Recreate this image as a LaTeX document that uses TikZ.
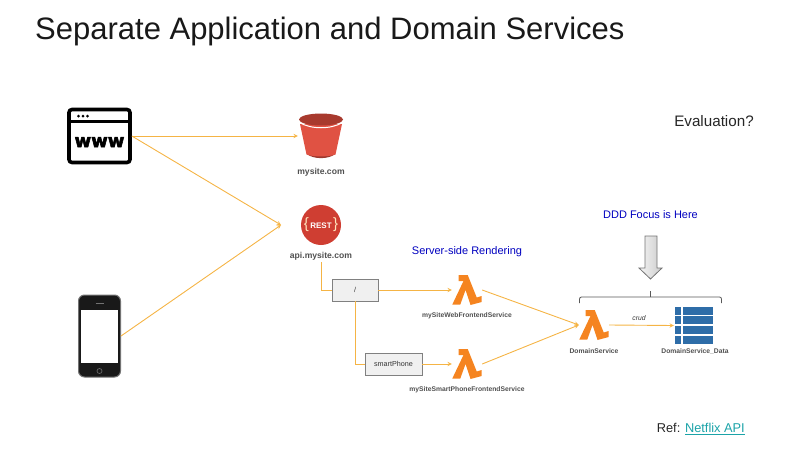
\documentclass[tikz,border=0pt]{standalone}
\usepackage{fontspec}
\setmainfont{Liberation Sans}
\newfontfamily\wwwfont[FakeBold=3]{DejaVu Sans Bold}
\usetikzlibrary{arrows,%
                shapes,%
                positioning}
\definecolor{linkorange}{HTML}{F5B445}
\definecolor{lambdaorange}{HTML}{F58420}
\definecolor{bucketred}{HTML}{E05243}
\definecolor{bucketdark}{HTML}{A83A2E}
\definecolor{restred}{HTML}{CF3E32}
\definecolor{tableblue}{HTML}{2E6DA8}
\definecolor{labelgray}{HTML}{505050}
\definecolor{netflixteal}{HTML}{1BA3A8}
\definecolor{restcream}{HTML}{FFE3BC}
\begin{document}
\begin{tikzpicture}[x=1pt, y=-1pt, >=stealth,
title/.style={font=\fontsize{31}{36}\selectfont, text=black!90, inner sep=0pt},
%
note/.style={font=\fontsize{15.2}{17}\selectfont, text=black!85, inner sep=0pt},
%
bluenote/.style={font=\fontsize{11}{14}\selectfont, text=blue!75!black, inner sep=0pt},
%
caption/.style={font=\bfseries\fontsize{8.6}{10}\selectfont, text=labelgray, inner sep=2pt},
%
smallcaption/.style={font=\bfseries\fontsize{6.75}{9}\selectfont, text=labelgray, inner sep=0pt},
%
routebox/.style={rectangle, draw=black!50, line width=.8pt, fill=black!6, minimum height=22pt,
font=\fontsize{7.2}{9}\selectfont, text=black!80, inner sep=0pt},
%
link/.style={->, draw=linkorange, line width=.9pt},
%
window/.style={rectangle, draw=black, line width=3.6pt, rounded corners=3pt, fill=white,
minimum width=61pt, minimum height=53pt, inner sep=0pt, text=black,
font=\wwwfont\fontsize{18}{20}\selectfont},
%
bucket/.style={minimum width=46pt, minimum height=46pt, inner sep=0pt,
path picture={
  \begin{scope}[shift={(path picture bounding box.center)}]
    \fill[bucketred!70!black] (-14,18) .. controls (-8,23.5) and (8,23.5) .. (14,18) -- cycle;
    \fill[bucketred] (-21,-12) -- (-14.5,18.5) .. controls (-8,21) and (8,21) .. (14.5,18.5) -- (21,-12) -- cycle;
    \draw[white, line width=1pt] (-21.5,-13.5) .. controls (-10,-6.5) and (10,-6.5) .. (21.5,-13.5);
    \fill[bucketdark] (0,-16.5) ellipse (22 and 6);
  \end{scope}}},
%
rest/.style={circle, fill=restred, minimum size=40pt, inner sep=0pt, text=white,
font=\bfseries\fontsize{8}{10}\selectfont},
%
phone/.style={rectangle, draw=black!55, line width=1pt, rounded corners=6pt, fill=black!90,
minimum width=42pt, minimum height=82pt, inner sep=0pt,
path picture={
  \begin{scope}[shift={(path picture bounding box.center)}, sharp corners]
    \fill[white] (-18.5,-26) rectangle (18.5,27);
    \draw[black!55, line width=.7pt] (-4,-33) -- (4,-33);
    \draw[black!60, line width=.7pt] (0,35) circle (2.5);
  \end{scope}}},
%
lambdaicon/.style={minimum width=30pt, minimum height=30pt, inner sep=0pt,
path picture={
  \begin{scope}[shift={(path picture bounding box.center)}]
    \fill[lambdaorange] (-8.3,-15) -- (0.7,-15) -- (9.7,7.5) -- (14.7,6) -- (14.7,12) -- (3.5,15)
      -- (-1.5,0) -- (-6.7,14.5) -- (-14.7,14.5) -- (-3.5,-9) -- (-8.3,-9) -- cycle;
  \end{scope}}},
%
datatable/.style={minimum width=40pt, minimum height=38pt, inner sep=0pt,
path picture={
  \begin{scope}[shift={(path picture bounding box.center)}]
    \foreach \dy in {-19,-9.2,0.6,10.4} {
      \fill[tableblue] (-19.5,\dy) rectangle +(6,8);
      \fill[tableblue] (-11.5,\dy) rectangle +(30,8);
    }
  \end{scope}}}]

\useasboundingbox (0,0) rectangle (800,450);

\node[title, anchor=west] (heading) at (35,31) {Separate Application and Domain Services};
\node[note] (evaluation) at (714,121) {Evaluation?};
\node[bluenote] (focus) at (650.5,215) {DDD Focus is Here};
\node[bluenote] (rendering) at (467,251.5) {Server-side Rendering};
\node[note, font=\fontsize{12.8}{15}\selectfont, anchor=east] (ref) at (745,429)
  {Ref: \textcolor{netflixteal}{\underline{Netflix API}}};

\node[window] (browser) at (99.5,136) {\raisebox{-11pt}[3pt][3pt]{www}};
\begin{scope}[shift={(browser.center)}]
  \draw[black, line width=2.6pt] (-29,-14.5) -- (29,-14.5);
  \foreach \dx in {-21,-16.5,-12}
    \fill[black] (\dx,-20) circle (1.5);
\end{scope}
\node[phone] (mobile) at (99.5,336) {};

\node[bucket] (site) at (321,136) {};
\node[caption] (sitelabel) at (321,172) {mysite.com};

\node[rest] (api) at (321,225) {\textcolor{restcream}{\fontsize{15}{15}\mdseries\selectfont\{}\,REST\,\textcolor{restcream}{\fontsize{15}{15}\mdseries\selectfont\}}};
\node[caption] (apilabel) at (321,256) {api.mysite.com};

\node[routebox, minimum width=46pt] (root) at (355,290) {/};
\node[routebox, minimum width=57pt] (smart) at (393.5,364) {smartPhone};

\node[lambdaicon] (web) at (467,290) {};
\node[smallcaption] (weblabel) at (467,316) {mySiteWebFrontendService};
\node[lambdaicon] (smartfn) at (467,364) {};
\node[smallcaption] (smartlabel) at (467,390) {mySiteSmartPhoneFrontendService};

\node[lambdaicon] (domain) at (594,325) {};
\node[smallcaption] (domainlabel) at (594,351) {DomainService};
\node[datatable] (data) at (694,325.5) {};
\node[smallcaption] (datalabel) at (695,351) {DomainService\_Data};
\node[inner sep=0pt, font=\itshape\fontsize{6.8}{8}\selectfont, text=black!80] (crud) at (639,318.5) {crud};

\draw[black!55, line width=.8pt, left color=black!4, right color=black!20]
  (645,236) -- (657,236) -- (657,268) -- (662,268) -- (650.5,279) -- (639,268) -- (645,268) -- cycle;

\coordinate (apijoin) at (281,225);

\begin{scope}
  \draw[link](browser.east) -- (site.west);
  \draw[link](browser.east) -- (apijoin);
  \draw[link](mobile.east) -- (apijoin);
  %%%%%%%%%%%%%%%%%%%%%%%%%%%%%%%%%%%%%
  \draw[draw=linkorange, line width=.9pt](apilabel.south) |- (root.west);
  \draw[draw=linkorange, line width=.9pt](root.south) |- (smart.west);
  \draw[link](root.east) -- (web.west);
  \draw[link](smart.east) -- (smartfn.west);
  %%%%%%%%%%%%%%%%%%%%%%%%%%%%%%%%%%%%
  \draw[link](web.east) -- (domain.west);
  \draw[link](smartfn.east) -- (domain.west);
  \draw[link](domain.east) -- (data.west);
\end{scope}

\draw[black!65, line width=.8pt, rounded corners=2pt] (579.5,303) -- (579.5,297) -- (721.5,297) -- (721.5,303);
\draw[black!65, line width=.8pt] (650.5,297) -- (650.5,291);

\end{tikzpicture}
\end{document}
